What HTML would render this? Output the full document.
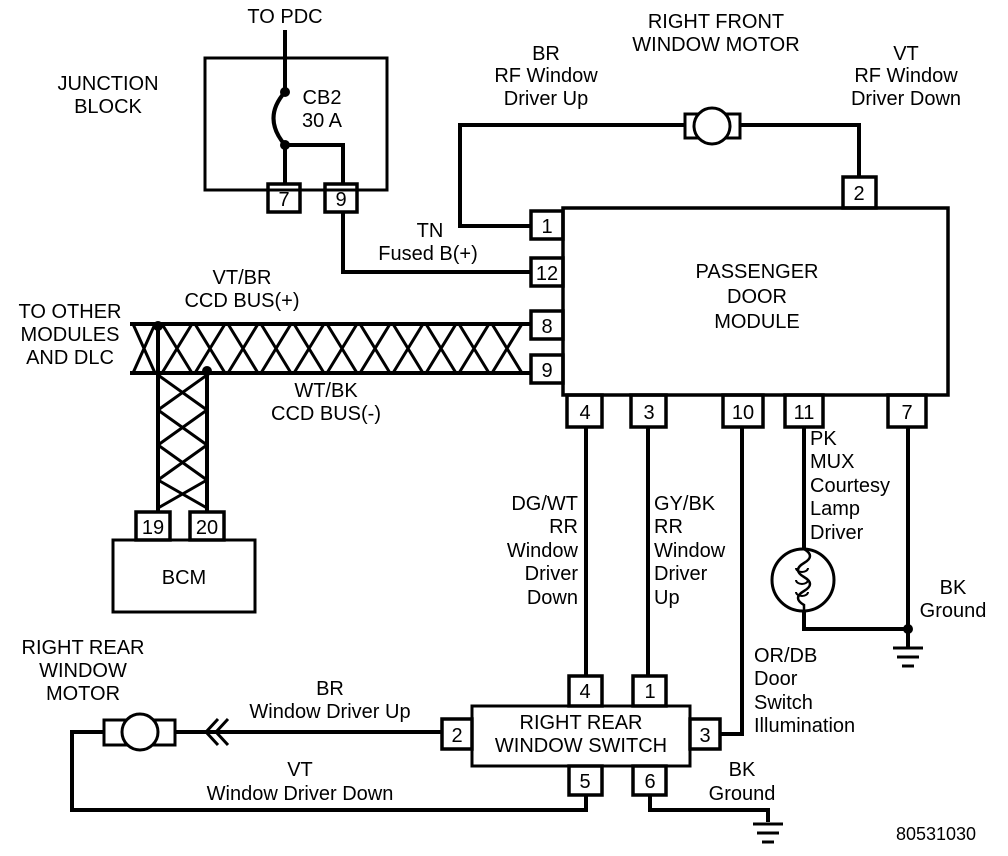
<!DOCTYPE html>
<html><head><style>
html,body{margin:0;padding:0;background:#fff;}
svg{display:block;}
text{font-family:"Liberation Sans",Arial,sans-serif;font-size:20px;fill:#000;}
.t{font-size:20px;text-anchor:middle;}
</style></head><body>
<svg width="1008" height="856" viewBox="0 0 1008 856" xmlns="http://www.w3.org/2000/svg">
<g fill="none" stroke="#000" stroke-width="4">
<rect x="205" y="58" width="182" height="132" stroke-width="3"/>
<line x1="285" y1="30" x2="285" y2="92"/>
<path d="M285 92 Q262 118 285 145"/>
<line x1="285" y1="145" x2="285" y2="184"/>
<polyline points="285,145 343,145 343,184"/>
<rect x="268" y="184" width="32" height="28" stroke-width="3.5"/>
<rect x="325" y="184" width="32" height="28" stroke-width="3.5"/>
<polyline points="343,212 343,272 531,272"/>
<rect x="563" y="208" width="385" height="187" stroke-width="3.5"/>
<rect x="531" y="211" width="32" height="28" stroke-width="3.5"/>
<rect x="531" y="258" width="32" height="28" stroke-width="3.5"/>
<rect x="531" y="311" width="32" height="28" stroke-width="3.5"/>
<rect x="531" y="355" width="32" height="28" stroke-width="3.5"/>
<rect x="843" y="177" width="33" height="31" stroke-width="3.5"/>
<rect x="567" y="395" width="35" height="32" stroke-width="3.5"/>
<rect x="631" y="395" width="35" height="32" stroke-width="3.5"/>
<rect x="723" y="395" width="40" height="32" stroke-width="3.5"/>
<rect x="785" y="395" width="38" height="32" stroke-width="3.5"/>
<rect x="888" y="395" width="38" height="32" stroke-width="3.5"/>
<polyline points="531,226 460,226 460,125 685,125"/>
<polyline points="740,125 859,125 859,177"/>
<rect x="685" y="114" width="55" height="24" stroke-width="3"/>
<circle cx="712" cy="126" r="18" fill="#fff" stroke-width="3"/>
<line x1="130" y1="324" x2="531" y2="324"/>
<line x1="130" y1="373" x2="531" y2="373"/>
<path d="M133 324 L155 373 M155 324 L133 373 M162 324 L192 373 M192 324 L162 373 M195 324 L225 373 M225 324 L195 373 M228 324 L258 373 M258 324 L228 373 M261 324 L291 373 M291 324 L261 373 M294 324 L324 373 M324 324 L294 373 M327 324 L357 373 M357 324 L327 373 M360 324 L390 373 M390 324 L360 373 M393 324 L423 373 M423 324 L393 373 M426 324 L456 373 M456 324 L426 373 M459 324 L489 373 M489 324 L459 373 M492 324 L522 373 M522 324 L492 373" stroke-width="3"/>
<line x1="158" y1="324" x2="158" y2="512"/>
<line x1="207" y1="373" x2="207" y2="512"/>
<path d="M158 375 L207 410 M207 375 L158 410 M158 410 L207 445 M207 410 L158 445 M158 445 L207 480 M207 445 L158 480 M158 480 L207 508 M207 480 L158 508" stroke-width="3"/>
<rect x="136" y="512" width="34" height="28" stroke-width="3.5"/>
<rect x="190" y="512" width="34" height="28" stroke-width="3.5"/>
<rect x="113" y="540" width="142" height="72" stroke-width="3"/>
<line x1="586" y1="427" x2="586" y2="676"/>
<line x1="648" y1="427" x2="648" y2="676"/>
<polyline points="742,427 742,734 720,734"/>
<line x1="804" y1="427" x2="804" y2="549"/>
<polyline points="804,611 804,629 908,629"/>
<line x1="908" y1="427" x2="908" y2="648"/>
<circle cx="803" cy="580" r="31" stroke-width="3"/>
<path d="M804 549 Q816 556 804 563 Q792 570 804 577 Q816 584 804 591 Q792 598 804 605 L804 611" stroke-width="2.5"/>
<path d="M796 568 a6 4 0 1 0 12 0 M796 580 a6 4 0 1 0 12 0 M796 592 a6 4 0 1 0 12 0" stroke-width="2"/>
<line x1="893" y1="648" x2="923" y2="648" stroke-width="3"/>
<line x1="897" y1="657" x2="919" y2="657" stroke-width="3"/>
<line x1="902" y1="666" x2="914" y2="666" stroke-width="3"/>
<rect x="472" y="706" width="218" height="60" stroke-width="3"/>
<rect x="569" y="676" width="33" height="30" stroke-width="3.5"/>
<rect x="633" y="676" width="33" height="30" stroke-width="3.5"/>
<rect x="442" y="719" width="30" height="30" stroke-width="3.5"/>
<rect x="690" y="719" width="30" height="30" stroke-width="3.5"/>
<rect x="569" y="766" width="33" height="29" stroke-width="3.5"/>
<rect x="633" y="766" width="33" height="29" stroke-width="3.5"/>
<line x1="442" y1="732" x2="175" y2="732"/>
<path d="M218 719 L206 732 L218 745 M228 719 L216 732 L228 745" stroke-width="3"/>
<rect x="104" y="720" width="71" height="25" stroke-width="3"/>
<circle cx="140" cy="732" r="18" fill="#fff" stroke-width="3"/>
<polyline points="104,732 72,732 72,810 586,810 586,795"/>
<polyline points="650,795 650,810 768,810 768,822"/>
<line x1="753" y1="824" x2="783" y2="824" stroke-width="3"/>
<line x1="757" y1="833" x2="779" y2="833" stroke-width="3"/>
<line x1="762" y1="842" x2="774" y2="842" stroke-width="3"/>
</g>
<g fill="#000">
<circle cx="285" cy="92" r="5"/><circle cx="285" cy="145" r="5"/>
<circle cx="158" cy="326" r="5"/><circle cx="207" cy="371" r="5"/>
<circle cx="908" cy="629" r="5"/>
</g>
<text x="285" y="23" text-anchor="middle">TO PDC</text>
<text x="108" y="90" text-anchor="middle">JUNCTION</text>
<text x="108" y="113" text-anchor="middle">BLOCK</text>
<text x="322" y="104" text-anchor="middle">CB2</text>
<text x="322" y="127" text-anchor="middle">30 A</text>
<text x="284" y="206" class="t">7</text><text x="341" y="206" class="t">9</text>
<text x="716" y="28" text-anchor="middle">RIGHT FRONT</text>
<text x="716" y="51" text-anchor="middle">WINDOW MOTOR</text>
<text x="546" y="60" text-anchor="middle">BR</text>
<text x="546" y="82" text-anchor="middle">RF Window</text>
<text x="546" y="105" text-anchor="middle">Driver Up</text>
<text x="906" y="60" text-anchor="middle">VT</text>
<text x="906" y="82" text-anchor="middle">RF Window</text>
<text x="906" y="105" text-anchor="middle">Driver Down</text>
<text x="430" y="237" text-anchor="middle">TN</text>
<text x="428" y="260" text-anchor="middle">Fused B(+)</text>
<text x="547" y="233" class="t">1</text><text x="547" y="280" class="t">12</text>
<text x="547" y="333" class="t">8</text><text x="547" y="377" class="t">9</text>
<text x="859" y="200" class="t">2</text>
<text x="757" y="278" text-anchor="middle">PASSENGER</text>
<text x="757" y="303" text-anchor="middle">DOOR</text>
<text x="757" y="328" text-anchor="middle">MODULE</text>
<text x="242" y="284" text-anchor="middle">VT/BR</text>
<text x="242" y="307" text-anchor="middle">CCD BUS(+)</text>
<text x="70" y="318" text-anchor="middle">TO OTHER</text>
<text x="70" y="341" text-anchor="middle">MODULES</text>
<text x="70" y="364" text-anchor="middle">AND DLC</text>
<text x="326" y="397" text-anchor="middle">WT/BK</text>
<text x="326" y="420" text-anchor="middle">CCD BUS(-)</text>
<text x="153" y="534" class="t">19</text><text x="207" y="534" class="t">20</text>
<text x="184" y="584" text-anchor="middle">BCM</text>
<text x="585" y="419" class="t">4</text><text x="649" y="419" class="t">3</text>
<text x="743" y="419" class="t">10</text><text x="804" y="419" class="t">11</text>
<text x="907" y="419" class="t">7</text>
<g text-anchor="end">
<text x="578" y="510">DG/WT</text><text x="578" y="533">RR</text><text x="578" y="557">Window</text><text x="578" y="580">Driver</text><text x="578" y="604">Down</text>
</g>
<text x="654" y="510">GY/BK</text><text x="654" y="533">RR</text><text x="654" y="557">Window</text><text x="654" y="580">Driver</text><text x="654" y="604">Up</text>
<text x="810" y="445">PK</text><text x="810" y="468">MUX</text><text x="810" y="492">Courtesy</text><text x="810" y="515">Lamp</text><text x="810" y="539">Driver</text>
<text x="953" y="594" text-anchor="middle">BK</text><text x="953" y="617" text-anchor="middle">Ground</text>
<text x="754" y="662">OR/DB</text><text x="754" y="685">Door</text><text x="754" y="709">Switch</text><text x="754" y="732">Illumination</text>
<text x="83" y="654" text-anchor="middle">RIGHT REAR</text>
<text x="83" y="677" text-anchor="middle">WINDOW</text>
<text x="83" y="700" text-anchor="middle">MOTOR</text>
<text x="330" y="695" text-anchor="middle">BR</text>
<text x="330" y="718" text-anchor="middle">Window Driver Up</text>
<text x="300" y="776" text-anchor="middle">VT</text>
<text x="300" y="800" text-anchor="middle">Window Driver Down</text>
<text x="585" y="698" class="t">4</text><text x="650" y="698" class="t">1</text>
<text x="457" y="742" class="t">2</text><text x="705" y="742" class="t">3</text>
<text x="585" y="788" class="t">5</text><text x="650" y="788" class="t">6</text>
<text x="581" y="729" text-anchor="middle">RIGHT REAR</text>
<text x="581" y="752" text-anchor="middle">WINDOW SWITCH</text>
<text x="742" y="776" text-anchor="middle">BK</text>
<text x="742" y="800" text-anchor="middle">Ground</text>
<text x="936" y="840" text-anchor="middle" style="font-size:18px">80531030</text>
</svg>
</body></html>
